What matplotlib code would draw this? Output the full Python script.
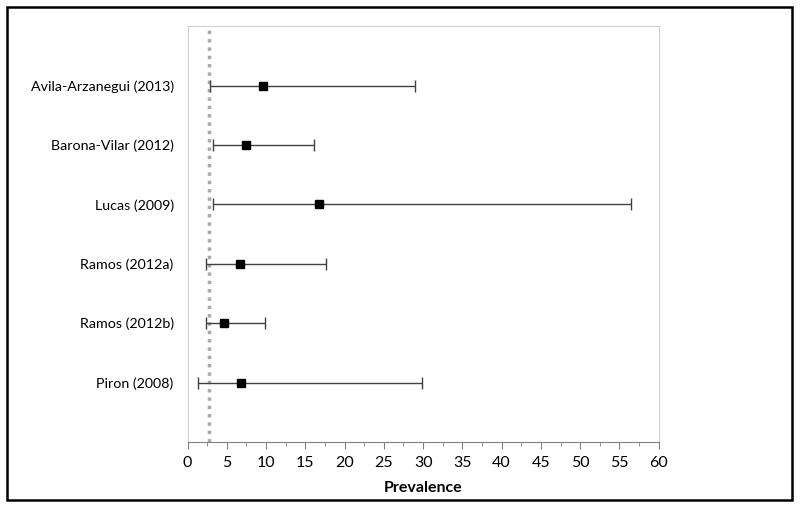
import matplotlib
matplotlib.use("Agg")
import matplotlib.pyplot as plt
from matplotlib.patches import Rectangle
from matplotlib.ticker import MultipleLocator

studies = ["Avila-Arzanegui (2013)", "Barona-Vilar (2012)", "Lucas (2009)",
           "Ramos (2012a)", "Ramos (2012b)", "Piron (2008)"]
prevalence = [9.6, 7.5, 16.8, 6.7, 4.7, 6.8]
ci_low = [2.8, 3.3, 3.2, 2.3, 2.3, 1.3]
ci_high = [29.0, 16.1, 56.5, 17.6, 9.9, 29.8]
reference_value = 2.7

plt.rcParams["font.family"] = ["Lato", "DejaVu Sans"]

fig = plt.figure(figsize=(8, 5.09), dpi=100)
ax = fig.add_axes([0.2344, 0.1316, 0.589, 0.817])

ypos = list(range(len(studies), 0, -1))
err_lo = [p - l for p, l in zip(prevalence, ci_low)]
err_hi = [h - p for p, h in zip(prevalence, ci_high)]

ax.axvline(reference_value, color="#aaaaaa", linewidth=2.5, linestyle=(0, (1, 1.4)), zorder=1)
ax.errorbar(prevalence, ypos, xerr=[err_lo, err_hi], fmt="s", color="black",
            markersize=5.5, ecolor="#404040", elinewidth=1, capsize=4, capthick=1, zorder=3)

ax.set_xlim(0, 60)
ax.set_ylim(0, 7)
ax.set_yticks(ypos)
ax.set_yticklabels(studies, fontsize=10.3)
ax.tick_params(axis="y", length=0, pad=10)
ax.xaxis.set_major_locator(MultipleLocator(5))
ax.xaxis.set_minor_locator(MultipleLocator(2.5))
ax.tick_params(axis="x", which="major", length=5, color="#808080", labelsize=11.5, pad=5)
ax.tick_params(axis="x", which="minor", length=3, color="#808080")
ax.set_xlabel("Prevalence", fontsize=11.5, fontweight="bold", labelpad=8)

for side in ["top", "right", "left"]:
    ax.spines[side].set_color("#d0d0d0")
ax.spines["bottom"].set_color("#808080")

fig.patches.append(Rectangle((7 / 800, 9 / 509), 785 / 800, 493 / 509, transform=fig.transFigure,
                             fill=False, edgecolor="black", linewidth=1.8))

fig.savefig("out.png", dpi=100)
